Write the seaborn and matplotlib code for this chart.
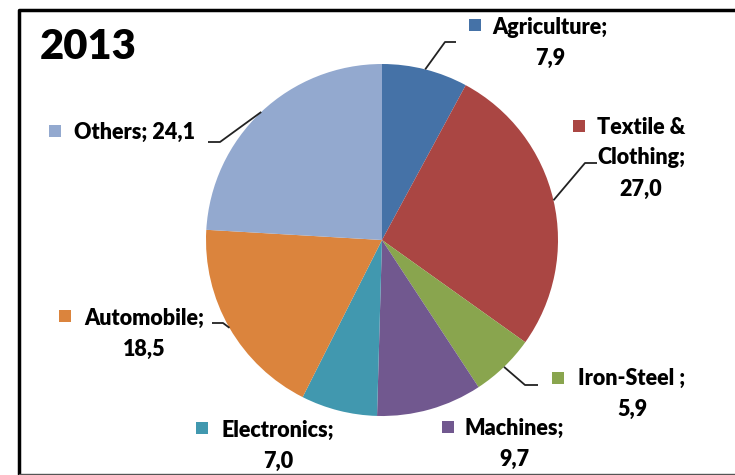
import matplotlib
matplotlib.use("Agg")
from matplotlib import pyplot as plt
import numpy as np
import seaborn as sns

# data
sectors = ['Agriculture', 'Textile &\nClothing', 'Iron-Steel ', 'Machines',
           'Electronics', 'Automobile', 'Others']
shares = [7.9, 27.0, 5.9, 9.7, 7.0, 18.5, 24.1]
share_labels = ['7,9', '27,0', '5,9', '9,7', '7,0', '18,5', '24,1']
colors = ['#4572A7', '#AA4643', '#89A54E', '#71588F', '#4198AF', '#DB843D', '#93A9CF']
year = '2013'

# layout (pixel coords, y downwards)
CX, CY, R = 382, 240, 176
# text centre x, first line y, marker x, marker y
label_pos = [
    (550, 27, 475, 25),
    (641, 127, 579, 126),
    (632, 378, 558, 378),
    (514, 428, 448, 427),
    (278, 430, 202, 428),
    (144, 318, 65, 316),
    (135, 132, 55, 131),
]
# elbow points of the leader lines (None = no line)
leaders = [
    [(445, 42), (456, 42)],
    [(585, 163), (597, 163)],
    [(525, 385), (538, 385)],
    None,
    None,
    [(223, 323), (212, 323)],
    [(220, 142), (208, 142)],
]

sns.set_theme(style="white")
plt.rcParams['font.family'] = ['Lato', 'DejaVu Sans']

fig = plt.figure(figsize=(7.35, 4.75), dpi=100)
ax = fig.add_axes([0, 0, 1, 1])

wedges, _ = ax.pie(shares, colors=sns.color_palette(colors), startangle=-90,
                   counterclock=True, center=(CX, CY), radius=R,
                   wedgeprops=dict(linewidth=0))
ax.set_xlim(0, 735)
ax.set_ylim(475, 0)
ax.set_aspect('equal')
ax.axis('off')

for i, w in enumerate(wedges):
    tx, ty, mx, my = label_pos[i]
    name = sectors[i]
    if name == 'Others':
        lines = [f'{name}; {share_labels[i]}']
    else:
        lines = f'{name};\n{share_labels[i]}'.split('\n')
    for k, line in enumerate(lines):
        ax.text(tx, ty + k * 31, line, ha='center', va='center',
                fontsize=15.5, fontweight='heavy', color='black')
    ax.add_patch(plt.Rectangle((mx - 6, my - 6), 12, 12, color=colors[i], lw=0))
    if leaders[i] is not None:
        mid = np.deg2rad((w.theta1 + w.theta2) / 2)
        pts = [(CX + R * np.cos(mid), CY + R * np.sin(mid))] + leaders[i]
        xs, ys = zip(*pts)
        ax.plot(xs, ys, color='#222222', lw=1.3, solid_capstyle='butt')

ax.text(40, 47, year, ha='left', va='center', fontsize=30, fontweight='heavy',
        color='black')

# chart frame
ax.plot([735, 19, 19], [10, 10, 474], color='black', lw=2.5, clip_on=False)
ax.plot([19, 735], [474, 474], color='#555555', lw=1, clip_on=False)

fig.savefig('out.png', dpi=100, facecolor='white')
